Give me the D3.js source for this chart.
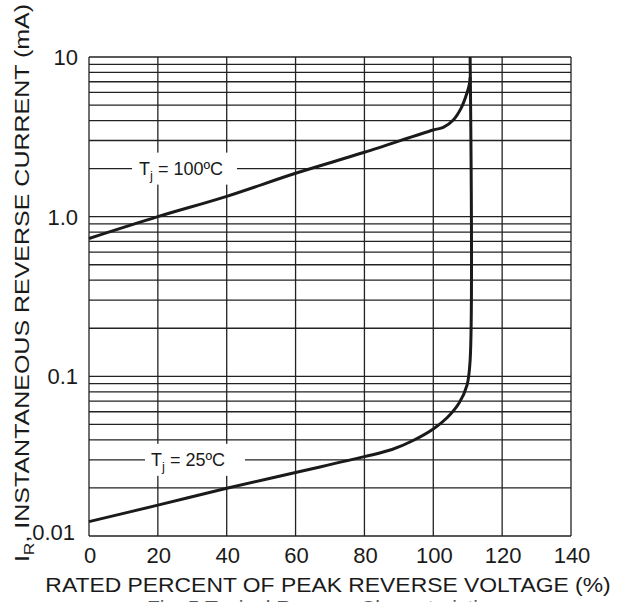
<!DOCTYPE html>
<html lang="en">
<head>
<meta charset="UTF-8">
<title>Typical Reverse Characteristics</title>
<script src="https://d3js.org/d3.v7.min.js"></script>
<style>
  body { margin: 0; background: #fff; }
  text { font-family: "Liberation Sans", Arial, sans-serif; fill: #1a1a1a; }
</style>
</head>
<body>
<div id="chart"></div>
<script>
// x ticks (percent of peak reverse voltage)
var xTicks = [0, 20, 40, 60, 80, 100, 120, 140];
// y tick values / labels (mA)
var yTickValues = [0.01, 0.1, 1, 10];
var yTickLabels = ["0.01", "0.1", "1.0", "10"];

// Tj = 25 C curve
var pct25 = [0, 20, 40, 60, 80, 88, 94, 100, 104, 107.5, 109.8, 110.7, 110.7];
var ir25  = [0.0123, 0.0156, 0.0199, 0.025, 0.0314, 0.0348, 0.0395, 0.0468, 0.055, 0.068, 0.088, 0.126, 10];

// Tj = 100 C curve
var pct100 = [0, 20, 40, 60, 80, 100, 102.9, 105.8, 108.2, 109.7, 110.5, 110.7];
var ir100  = [0.73, 1.0, 1.34, 1.87, 2.53, 3.49, 3.62, 4.03, 4.84, 5.87, 6.78, 7.45];

var width = 617, height = 602;
var margin = {left: 89, right: 46, top: 57, bottom: 66};

var svg = d3.select('#chart').append('svg')
    .attr('width', width)
    .attr('height', height);

var x = d3.scaleLinear().domain([0, 140]).range([margin.left, width - margin.right]);
var y = d3.scaleLog().domain([0.01, 10]).range([height - margin.bottom, margin.top]);

// grid - every minor log line
var gridY = y.ticks();
svg.append('g').selectAll('line')
    .data(gridY)
    .enter().append('line')
    .attr('x1', x(0)).attr('x2', x(140))
    .attr('y1', function(d){ return y(d); })
    .attr('y2', function(d){ return y(d); })
    .attr('stroke', '#222')
    .attr('stroke-width', 1.3);

svg.append('g').selectAll('line')
    .data(xTicks)
    .enter().append('line')
    .attr('x1', function(d){ return x(d); })
    .attr('x2', function(d){ return x(d); })
    .attr('y1', y(0.01)).attr('y2', y(10))
    .attr('stroke', '#222')
    .attr('stroke-width', 1.3);

// label boxes (white behind the Tj texts)
function tjLabel(cx, cy, bx, bw, temp) {
    svg.append('rect')
        .attr('x', bx).attr('y', cy - 16)
        .attr('width', bw).attr('height', 32)
        .attr('fill', '#fff');
    var t = svg.append('text')
        .attr('x', cx).attr('y', cy + 6)
        .attr('text-anchor', 'middle')
        .style('font-size', '18px');
    t.append('tspan').text('T');
    t.append('tspan').attr('dy', 5).style('font-size', '13px').text('j');
    t.append('tspan').attr('dy', -5).text(' = ' + temp + 'ºC');
}
tjLabel(181, y(2), 132, 105, 100);
tjLabel(188, y(0.03), 145, 100, 25);

// curves
var line = d3.line()
    .x(function(d){ return x(d[0]); })
    .y(function(d){ return y(d[1]); })
    .curve(d3.curveCatmullRom.alpha(0.5));

svg.append('path')
    .datum(d3.zip(pct25, ir25))
    .attr('d', line)
    .attr('fill', 'none')
    .attr('stroke', '#1a1a1a')
    .attr('stroke-width', 3);

svg.append('path')
    .datum(d3.zip(pct100, ir100))
    .attr('d', line)
    .attr('fill', 'none')
    .attr('stroke', '#1a1a1a')
    .attr('stroke-width', 3);

// tick labels
svg.append('g').selectAll('text')
    .data(xTicks)
    .enter().append('text')
    .attr('x', function(d){ return x(d) + 1; })
    .attr('y', 563)
    .attr('text-anchor', 'middle')
    .style('font-size', '22px')
    .text(function(d){ return d; });

svg.append('g').selectAll('text')
    .data(yTickValues)
    .enter().append('text')
    .attr('x', function(d, i){ return i === 0 ? 75 : 78; })
    .attr('y', function(d, i){ return y(d) + (i === 0 ? 4 : 8); })
    .attr('text-anchor', 'end')
    .style('font-size', '22px')
    .text(function(d, i){ return yTickLabels[i]; });

// axis titles (the source lettering is a bit wider than Arial)
svg.append('text')
    .attr('transform', 'translate(328,592) scale(1.09,1)')
    .attr('text-anchor', 'middle')
    .style('font-size', '21px')
    .text('RATED PERCENT OF PEAK REVERSE VOLTAGE (%)');

var yt = svg.append('text')
    .attr('transform', 'translate(29,283) rotate(-90) scale(1.25,1)')
    .attr('text-anchor', 'middle')
    .style('font-size', '20px');
yt.append('tspan').text('I');
yt.append('tspan').attr('dy', 5).style('font-size', '14px').text('R');
yt.append('tspan').attr('dy', -5).text(', INSTANTANEOUS REVERSE CURRENT (mA)');

// caption, cut by the bottom edge like in the source
svg.append('text')
    .attr('transform', 'translate(323,615) scale(1.05,1)')
    .attr('text-anchor', 'middle')
    .style('font-size', '20px')
    .style('fill', '#555')
    .text('Fig. 5  Typical Reverse Characteristics');
</script>
</body>
</html>
